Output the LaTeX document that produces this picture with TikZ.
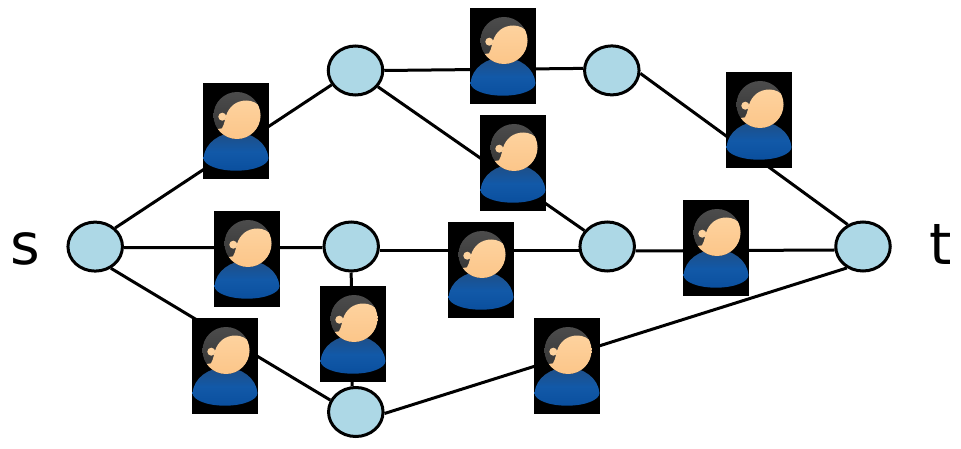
\documentclass[tikz,border=0pt]{standalone}
\usepackage{fontspec}
\setmainfont{DejaVu Sans}
\usetikzlibrary{shapes.geometric}
\definecolor{nodeblue}{HTML}{ADD8E6}
\definecolor{facetop}{HTML}{FDD29E}
\definecolor{facebot}{HTML}{FCC588}
\definecolor{hairtop}{HTML}{4C4C4C}
\definecolor{hairbot}{HTML}{333333}
\definecolor{bodytop}{HTML}{1F4E85}
\definecolor{bodymid}{HTML}{1259A8}
\definecolor{bodybot}{HTML}{0A4F9E}
\tikzset{
  x=1pt,y=-1pt,
  netnode/.style={ellipse,draw=black,line width=3pt,fill=nodeblue,minimum width=54.5pt,minimum height=49pt,inner sep=0pt},
  link/.style={draw=black,line width=3pt},
  lab/.style={font=\fontsize{57}{57}\selectfont,inner sep=0pt,anchor=base},
  usericon/.style={rectangle,fill=black,draw=none,minimum width=66pt,minimum height=96pt,inner sep=0pt,
    path picture={
      \begin{scope}[shift={(path picture bounding box.center)}]
        \path[top color=bodytop,bottom color=bodybot,middle color=bodymid]
          (-32.5,27) .. controls (-31,12) and (-17,1.7) .. (0,1.7)
          .. controls (17,1.7) and (31,12) .. (32.5,27)
          .. controls (32.5,34) and (18,39.7) .. (0,39.7)
          .. controls (-18,39.7) and (-32.5,34) .. (-32.5,27) -- cycle;
        \path[top color=hairtop,bottom color=hairbot] (1,-15.5) circle[radius=23.5];
        \begin{scope}
          \clip (1,-15.5) circle[radius=23.5];
          \path[top color=facetop,bottom color=facebot]
            (-14,-2.7) .. controls (-11.5,-7) and (-11,-12) .. (-9.7,-16)
            .. controls (-7,-24) and (0,-30.5) .. (10.3,-30.5)
            .. controls (16,-30.5) and (22,-28) .. (26,-22)
            -- (26,10) -- (-24,10) -- (-24,-1) -- cycle;
        \end{scope}
        \path[fill=facetop] (-13.7,-14.3) circle[radius=4];
      \end{scope}
    }},
}
\begin{document}
\begin{tikzpicture}
\useasboundingbox (0,0) rectangle (961,449);
\node[netnode] (s) at (95.2,246.6) {};
\node[netnode] (a) at (355.5,70.5) {};
\node[netnode] (b) at (611.8,70.4) {};
\node[netnode] (c) at (351.2,246.5) {};
\node[netnode] (d) at (607.2,246.5) {};
\node[netnode] (e) at (355.8,412) {};
\node[netnode] (t) at (863,246.5) {};
\draw[link] (s.43) -- (a.211);
\draw[link] (a.0) -- (b.176);
\draw[link] (a.-36) -- (d.145);
\draw[link] (b.-6) -- (t.125);
\draw[link] (s.-2.5) -- (c.182.5);
\draw[link] (c.-9) -- (d.189);
\draw[link] (d.-9) -- (t.187.5);
\draw[link] (s.-54) -- (e.155);
\draw[link] (c.270) -- (e.98);
\draw[link] (e.-3) -- (t.233);
\node[usericon] (u1) at (236,131) {};
\node[usericon] (u2) at (503,56) {};
\node[usericon] (u3) at (759,120) {};
\node[usericon] (u4) at (513,163) {};
\node[usericon] (u5) at (247,259) {};
\node[usericon] (u6) at (481,270) {};
\node[usericon] (u7) at (716,248) {};
\node[usericon] (u8) at (353,334) {};
\node[usericon] (u9) at (225,366) {};
\node[usericon] (u10) at (567,366) {};
\node[lab] (ls) at (25.8,265) {s};
\node[lab] (lt) at (941,265) {t};
\end{tikzpicture}
\end{document}
